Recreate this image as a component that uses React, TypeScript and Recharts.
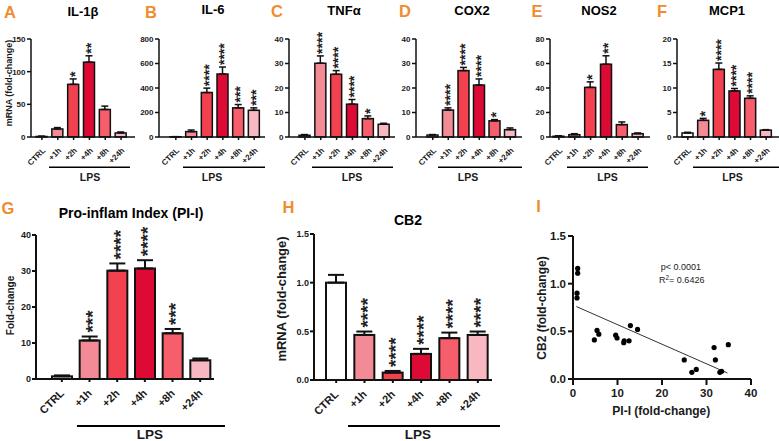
import React from 'react';
import { BarChart, Bar, XAxis, YAxis, ErrorBar, ScatterChart, Scatter, ReferenceLine } from 'recharts';

// ---------- data ----------
const categories = ['CTRL', '+1h', '+2h', '+4h', '+8h', '+24h'];
const barColors = ['#FFFFFF', '#F38B97', '#F3414F', '#DC0A35', '#F75E6C', '#F8B8C2'];

const il1bMean = [0.8, 12.3, 80.6, 114.5, 42.1, 6.2];
const il1bTop = [1.2, 14.4, 88.9, 124.3, 47.3, 7.7];
const il1bStars = ['', '', '*', '**', '', ''];

const il6Mean = [2, 44, 363, 514, 238, 218];
const il6Top = [3, 57, 399, 571, 265, 238];
const il6Stars = ['', '', '****', '****', '***', '***'];

const tnfMean = [0.7, 30.1, 25.6, 13.4, 7.5, 5.2];
const tnfTop = [1.0, 33.1, 27.1, 15.3, 8.6, 5.6];
const tnfStars = ['', '****', '****', '****', '*', ''];

const cox2Mean = [0.8, 11.0, 27.1, 21.2, 6.6, 3.0];
const cox2Top = [1.0, 11.9, 28.4, 23.7, 7.1, 3.7];
const cox2Stars = ['', '****', '****', '****', '*', ''];

const nos2Mean = [0.6, 1.9, 40.5, 59.4, 10.1, 2.7];
const nos2Top = [1.0, 2.7, 45.0, 66.3, 12.3, 3.3];
const nos2Stars = ['', '', '*', '**', '', ''];

const mcp1Mean = [0.82, 3.4, 13.8, 9.4, 7.9, 1.4];
const mcp1Top = [0.96, 3.8, 15.1, 9.9, 8.4, 1.5];
const mcp1Stars = ['', '*', '****', '****', '****', ''];

const piiMean = [0.74, 10.7, 30.1, 30.7, 12.7, 5.2];
const piiTop = [1.0, 11.8, 32.1, 33.0, 13.9, 5.7];
const piiStars = ['', '***', '****', '****', '***', ''];

const cb2Mean = [1.0, 0.463, 0.076, 0.268, 0.43, 0.463];
const cb2Top = [1.08, 0.498, 0.093, 0.32, 0.487, 0.498];
const cb2Stars = ['', '****', '****', '****', '****', '****'];

const scatterPI = [1.05, 1.05, 0.9, 0.9, 4.8, 5.4, 5.8, 9.6, 9.9, 11.4, 11.5, 12.6, 12.9, 14.5, 25.0, 26.7, 27.7, 31.7, 32.0, 33.0, 33.4, 34.9];
const scatterCB2 = [1.16, 1.11, 0.90, 0.85, 0.41, 0.51, 0.47, 0.46, 0.43, 0.38, 0.40, 0.40, 0.56, 0.52, 0.20, 0.07, 0.10, 0.33, 0.20, 0.07, 0.08, 0.36];
const fitLine = [{ x: 0.75, y: 0.76 }, { x: 34.7, y: 0.063 }];

const ticksA = [0, 50, 100, 150];
const ticksB = [0, 200, 400, 600, 800];
const ticks40 = [0, 10, 20, 30, 40];
const ticksE = [0, 20, 40, 60, 80];
const ticksF = [0, 5, 10, 15, 20];
const ticksCB2 = [0, 0.5, 1.0, 1.5];

// ---------- styles ----------
const FONT = '"Liberation Sans", Arial, Helvetica, sans-serif';
const INK = '#1a1a1a';
const ORANGE = '#EF8C2F';

function makeData(mean: number[], top: number[], stars: string[]) {
  return categories.map((c, i) => ({
    cat: c,
    mean: mean[i],
    top: top[i],
    err: [0, top[i] - mean[i]],
    stars: stars[i],
  }));
}

type PanelProps = {
  data: any[];
  max: number;
  ticks: number[];
  axisX: number;
  topY: number;
  zeroY: number;
  right: number;
  padL: number;
  padR: number;
  barSize: number;
  yW: number;
  mt: number;
  xH: number;
  tickFs: number;
  xFs: number;
  xdx: number;
  xdy: number;
  starFs: number;
  starGap: number;
  capW: number;
  sw: number;
  ySize: number;
  yMargin: number;
  fmt?: (v: number) => string;
};

function BarPanel(props: PanelProps) {
  const {
    data, max, ticks, axisX, topY, zeroY, right, padL, padR, barSize, yW, mt, xH,
    tickFs, xFs, xdx, xdy, starFs, starGap, capW, sw, ySize, yMargin, fmt,
  } = props;
  const plotW = right - axisX;
  const plotH = zeroY - topY;
  const width = yW + plotW;
  const height = mt + plotH + xH;

  const shape = (p: any) => {
    const { x, y, width: w, height: h, payload } = p;
    const idx = categories.indexOf(payload.cat);
    let starsEl = null;
    if (payload.stars) {
      const ppu = h / payload.mean;
      const errY = y - (payload.top - payload.mean) * ppu;
      const ax = x + w / 2 + 0.5 * starFs;
      const ay = errY - starGap;
      starsEl = (
        <text
          x={ax}
          y={ay}
          transform={`rotate(-90 ${ax} ${ay})`}
          fontSize={starFs}
          fontWeight={700}
          fill="#222"
          textAnchor="start"
        >
          {payload.stars}
        </text>
      );
    }
    return (
      <g>
        <rect x={x} y={y} width={w} height={h} fill={barColors[idx]} stroke="#111" strokeWidth={sw} />
        {starsEl}
      </g>
    );
  };

  const rotTick = (p: any) => {
    const tx = p.x + xdx;
    const ty = p.y + xdy;
    return (
      <text x={tx} y={ty} transform={`rotate(-45 ${tx} ${ty})`} textAnchor="end" fontSize={xFs} fontWeight={700} fill={INK}>
        {p.payload.value}
      </text>
    );
  };

  return (
    <div style={{ position: 'absolute', left: axisX - yW, top: topY - mt, width, height }}>
      <BarChart width={width} height={height} data={data} margin={{ top: mt, right: 0, bottom: 0, left: 0 }} barSize={barSize}>
        <XAxis
          dataKey="cat"
          interval={0}
          padding={{ left: padL, right: padR }}
          axisLine={{ stroke: '#111', strokeWidth: sw }}
          tickLine={{ stroke: '#111', strokeWidth: sw }}
          tickSize={3}
          tickMargin={2}
          height={xH}
          tick={rotTick}
        />
        <YAxis
          width={yW}
          domain={[0, max]}
          ticks={ticks}
          interval={0}
          axisLine={{ stroke: '#111', strokeWidth: sw }}
          tickLine={{ stroke: '#111', strokeWidth: sw }}
          tickSize={ySize}
          tickMargin={yMargin}
          tick={{ fontSize: tickFs, fontWeight: 700, fill: INK }}
          tickFormatter={fmt}
        />
        <Bar dataKey="mean" shape={shape} isAnimationActive={false}>
          <ErrorBar dataKey="err" width={capW} stroke="#111" strokeWidth={sw} direction="y" isAnimationActive={false} />
        </Bar>
      </BarChart>
    </div>
  );
}

const topCommon = {
  topY: 39,
  zeroY: 137,
  barSize: 11,
  yW: 30,
  mt: 16,
  xH: 40,
  tickFs: 8,
  xFs: 8,
  xdx: 4,
  xdy: 9,
  starFs: 14,
  starGap: 2,
  capW: 3.5,
  sw: 1.5,
  ySize: 4,
  yMargin: 1.5,
};

const botCommon = {
  barSize: 20,
  yW: 34,
  mt: 30,
  xH: 50,
  tickFs: 9,
  xFs: 11,
  xdx: 3,
  xdy: 10,
  starFs: 19,
  starGap: 4,
  capW: 8,
  sw: 2,
  ySize: 4,
  yMargin: 1,
};

const letters = [
  { t: 'A', x: 10, y: 12 },
  { t: 'B', x: 151, y: 12 },
  { t: 'C', x: 277, y: 10.5 },
  { t: 'D', x: 405, y: 10.5 },
  { t: 'E', x: 537, y: 11 },
  { t: 'F', x: 662, y: 11 },
  { t: 'G', x: 8, y: 208 },
  { t: 'H', x: 288.5, y: 207 },
  { t: 'I', x: 538.5, y: 206 },
];

const titles = [
  { t: 'IL-1β', x: 83, y: 11.5, fs: 13 },
  { t: 'IL-6', x: 213, y: 9, fs: 13 },
  { t: 'TNFα', x: 344, y: 10, fs: 13 },
  { t: 'COX2', x: 472, y: 10, fs: 13 },
  { t: 'NOS2', x: 599, y: 10, fs: 13 },
  { t: 'MCP1', x: 727, y: 10, fs: 13 },
  { t: 'Pro-inflam Index (PI-I)', x: 131, y: 213, fs: 14 },
  { t: 'CB2', x: 408, y: 219.5, fs: 14 },
];

const lpsMarks = [
  { x1: 49, x2: 130, tx: 90, ly: 167.3, ty: 177, fs: 10.5, sw: 1.5 },
  { x1: 183, x2: 265, tx: 212, ly: 167.3, ty: 177, fs: 10.5, sw: 1.5 },
  { x1: 312, x2: 393, tx: 352, ly: 167.3, ty: 177, fs: 10.5, sw: 1.5 },
  { x1: 438, x2: 522, tx: 468, ly: 167.3, ty: 177, fs: 10.5, sw: 1.5 },
  { x1: 567, x2: 648, tx: 607.5, ly: 167.3, ty: 177, fs: 10.5, sw: 1.5 },
  { x1: 693, x2: 779, tx: 732.5, ly: 167.3, ty: 177, fs: 10.5, sw: 1.5 },
  { x1: 77, x2: 225, tx: 150, ly: 426, ty: 434.5, fs: 13.5, sw: 2 },
  { x1: 348, x2: 500, tx: 418, ly: 426, ty: 434.5, fs: 13.5, sw: 2 },
];

const yLabels = [
  { t: 'mRNA (fold-change)', x: 8.7, y: 83, fs: 9 },
  { t: 'Fold-change', x: 10, y: 305.5, fs: 10 },
  { t: 'mRNA (fold-change)', x: 281.7, y: 299, fs: 13 },
  { t: 'CB2 (fold-change)', x: 541.7, y: 308, fs: 12 },
];

export default function App() {
  const scatterData = scatterPI.map((v, i) => ({ x: v, y: scatterCB2[i] }));
  const fmt1 = (v: number) => v.toFixed(1);
  return (
    <div
      style={{
        position: 'absolute',
        left: 0,
        top: 0,
        width: 779,
        height: 441,
        background: '#fff',
        overflow: 'hidden',
        fontFamily: FONT,
      }}
    >
      <BarPanel {...topCommon} data={makeData(il1bMean, il1bTop, il1bStars)} max={150} ticks={ticksA} axisX={31} right={135} padL={3} padR={6} />
      <BarPanel {...topCommon} data={makeData(il6Mean, il6Top, il6Stars)} max={800} ticks={ticksB} axisX={159} right={265} padL={9} padR={3} />
      <BarPanel {...topCommon} data={makeData(tnfMean, tnfTop, tnfStars)} max={40} ticks={ticks40} axisX={289} right={395} padL={8} padR={3} />
      <BarPanel {...topCommon} data={makeData(cox2Mean, cox2Top, cox2Stars)} max={40} ticks={ticks40} axisX={416} right={522} padL={9} padR={4} />
      <BarPanel {...topCommon} data={makeData(nos2Mean, nos2Top, nos2Stars)} max={80} ticks={ticksE} axisX={550} right={650} padL={1} padR={4} />
      <BarPanel {...topCommon} data={makeData(mcp1Mean, mcp1Top, mcp1Stars)} max={20} ticks={ticksF} axisX={677} right={779} padL={3} padR={5} />

      <BarPanel {...botCommon} data={makeData(piiMean, piiTop, piiStars)} max={40} ticks={ticks40} axisX={36} topY={235} zeroY={379} right={214} padL={12} padR={0} />
      <BarPanel {...botCommon} data={makeData(cb2Mean, cb2Top, cb2Stars)} max={1.5} ticks={ticksCB2} axisX={314} topY={234} zeroY={380} right={492} padL={8} padR={0} fmt={fmt1} />

      <div style={{ position: 'absolute', left: 543, top: 226, width: 223, height: 178 }}>
        <ScatterChart width={223} height={178} margin={{ top: 10, right: 15, bottom: 0, left: 0 }}>
          <XAxis
            type="number"
            dataKey="x"
            domain={[0, 40]}
            ticks={[0, 10, 20, 30, 40]}
            interval={0}
            height={25}
            tickSize={6}
            tickMargin={4}
            axisLine={{ stroke: '#111', strokeWidth: 2 }}
            tickLine={{ stroke: '#111', strokeWidth: 2 }}
            tick={{ fontSize: 11.5, fontWeight: 700, fill: INK }}
          />
          <YAxis
            type="number"
            dataKey="y"
            domain={[0, 1.5]}
            ticks={ticksCB2}
            interval={0}
            width={30}
            tickSize={5}
            tickMargin={2}
            tickFormatter={fmt1}
            axisLine={{ stroke: '#111', strokeWidth: 2 }}
            tickLine={{ stroke: '#111', strokeWidth: 2 }}
            tick={{ fontSize: 11.5, fontWeight: 700, fill: INK }}
          />
          <ReferenceLine segment={fitLine} stroke="#333" strokeWidth={1} />
          <Scatter
            data={scatterData}
            isAnimationActive={false}
            shape={(p: any) => <circle cx={p.cx} cy={p.cy} r={2.6} fill="#000" />}
          />
        </ScatterChart>
      </div>

      <svg width={779} height={441} style={{ position: 'absolute', left: 0, top: 0, pointerEvents: 'none' }}>
        {letters.map((l) => (
          <text key={l.t} x={l.x} y={l.y} fontSize={16.5} fontWeight={700} fill={ORANGE} textAnchor="middle" dominantBaseline="central">
            {l.t}
          </text>
        ))}
        {titles.map((t) => (
          <text key={t.t} x={t.x} y={t.y} fontSize={t.fs} fontWeight={700} fill="#000" textAnchor="middle" dominantBaseline="central">
            {t.t}
          </text>
        ))}
        {lpsMarks.map((m, i) => (
          <g key={i}>
            <line x1={m.x1} x2={m.x2} y1={m.ly} y2={m.ly} stroke="#000" strokeWidth={m.sw} />
            <text x={m.tx} y={m.ty} fontSize={m.fs} fontWeight={700} fill={INK} textAnchor="middle" dominantBaseline="central">
              LPS
            </text>
          </g>
        ))}
        {yLabels.map((l, i) => (
          <text
            key={i}
            x={l.x}
            y={l.y}
            transform={`rotate(-90 ${l.x} ${l.y})`}
            fontSize={l.fs}
            fontWeight={700}
            fill={INK}
            textAnchor="middle"
            dominantBaseline="central"
          >
            {l.t}
          </text>
        ))}
        <text x={661.3} y={410.5} fontSize={12} fontWeight={700} fill={INK} textAnchor="middle" dominantBaseline="central">
          PI-I (fold-change)
        </text>
        <text x={680.8} y={267} fontSize={9} fill="#222" textAnchor="middle" dominantBaseline="central">
          p&lt; 0.0001
        </text>
        <text x={681.7} y={280} fontSize={9} fill="#222" textAnchor="middle" dominantBaseline="central">
          R<tspan fontSize={6.5} dy={-3.5}>2</tspan>
          <tspan dy={3.5}>= 0.6426</tspan>
        </text>
      </svg>
    </div>
  );
}
